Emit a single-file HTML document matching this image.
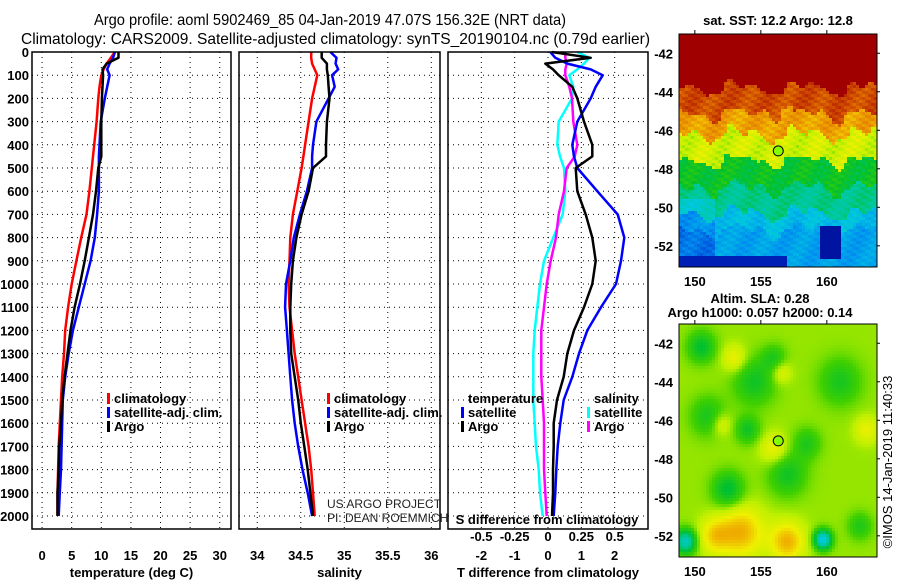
<!DOCTYPE html>
<html><head><meta charset="utf-8"><style>
body{margin:0;background:#fff;}
svg{display:block;font-family:"Liberation Sans",sans-serif;}
.tk{font-size:13px;font-weight:bold;fill:#000;}
.lg{font-size:13px;font-weight:bold;fill:#000;}
</style></head><body>
<svg id="fig" width="900" height="580" viewBox="0 0 900 580">
<text x="330" y="25" text-anchor="middle" font-size="16" textLength="472" lengthAdjust="spacingAndGlyphs">Argo profile: aoml 5902469_85 04-Jan-2019 47.07S 156.32E (NRT data)</text>
<text x="21" y="44" font-size="16" textLength="629" lengthAdjust="spacingAndGlyphs">Climatology: CARS2009. Satellite-adjusted climatology: synTS_20190104.nc (0.79d earlier)</text>
<g id="plots"></g>
<g id="maps"></g>
<text x="327" y="508" font-size="12" fill="#222">US ARGO PROJECT</text>
<text x="327" y="522" font-size="12" fill="#222">PI: DEAN ROEMMICH</text>
<text transform="translate(892,462) rotate(-90)" text-anchor="middle" font-size="13">©IMOS 14-Jan-2019 11:40:33</text>
<text x="778" y="25" text-anchor="middle" class="lg">sat. SST: 12.2 Argo: 12.8</text>
<text x="760" y="303" text-anchor="middle" class="lg">Altim. SLA: 0.28</text>
<text x="760" y="317" text-anchor="middle" class="lg">Argo h1000: 0.057 h2000: 0.14</text>
</svg>
<script>
// ---- data ----
const depths=[0,25,50,75,100,150,200,300,400,450,500,600,700,800,900,1000,1100,1200,1300,1400,1500,1600,1700,1800,1900,2000];
const tempClim=[12.3,11.6,10.9,10.4,10.0,9.7,9.5,9.2,8.8,8.6,8.4,8.0,7.5,6.6,5.8,5.0,4.4,3.9,3.7,3.4,3.2,3.0,2.8,2.7,2.6,2.6];
const tempSat=[12.3,12.0,11.4,11.0,11.4,11.0,10.6,9.9,9.7,9.6,9.6,9.6,9.3,8.9,8.2,7.2,6.2,5.2,4.5,3.9,3.5,3.4,3.3,3.2,3.0,2.8];
const tempArgo=[12.9,12.9,10.9,10.2,10.3,10.2,10.1,10.0,10.0,10.0,9.5,9.1,8.6,7.9,7.2,6.4,5.5,4.8,4.3,3.8,3.4,3.2,2.9,2.8,2.6,2.6];
const salClim=[34.62,34.62,34.63,34.66,34.69,34.66,34.63,34.59,34.55,34.53,34.51,34.46,34.41,34.38,34.37,34.36,34.37,34.40,34.43,34.47,34.51,34.55,34.59,34.62,34.64,34.66];
const salSat=[34.84,34.91,34.90,34.93,34.86,34.89,34.82,34.68,34.64,34.63,34.63,34.57,34.49,34.42,34.38,34.33,34.32,34.34,34.36,34.38,34.40,34.43,34.47,34.52,34.58,34.63];
const salArgo=[34.74,34.74,34.80,34.80,34.81,34.82,34.83,34.80,34.79,34.79,34.64,34.59,34.51,34.45,34.41,34.39,34.38,34.38,34.39,34.43,34.47,34.50,34.54,34.58,34.61,34.64];
const dTSat=[0.07,0.22,0.58,1.28,1.64,1.43,1.28,0.88,0.73,0.78,0.88,1.48,2.09,2.29,2.19,2.04,1.59,1.18,0.93,0.73,0.47,0.37,0.29,0.25,0.22,0.17];
const dTArgo=[0.12,1.28,-0.08,0.15,0.32,0.73,0.88,1.08,1.33,1.33,0.83,0.88,1.13,1.33,1.43,1.33,1.08,0.78,0.58,0.47,0.27,0.17,0.17,0.15,0.15,0.12];
const dSSat=[0.22,0.31,0.27,0.22,0.16,0.19,0.18,0.08,0.07,0.09,0.12,0.13,0.11,0.04,-0.03,-0.06,-0.08,-0.10,-0.11,-0.11,-0.11,-0.10,-0.09,-0.07,-0.06,-0.04];
const dSArgo=[0.13,0.13,0.14,0.13,0.13,0.16,0.18,0.19,0.22,0.20,0.14,0.12,0.08,0.06,0.02,-0.01,-0.03,-0.05,-0.05,-0.05,-0.04,-0.03,-0.03,-0.03,-0.02,-0.01];
const depthTicks=[0,100,200,300,400,500,600,700,800,900,1000,1100,1200,1300,1400,1500,1600,1700,1800,1900,2000];
const tempTicks=[0,5,10,15,20,25,30];
const salTicks=[34,34.5,35,35.5,36];
const dTTicks=[-2,-1,0,1,2];
const dSTicks=[-0.5,-0.25,0,0.25,0.5];
const dSTickLabels=["-0.5","-0.25","0","0.25","0.5"];
const lonTicks=[150,155,160];
const latTicks=[-42,-44,-46,-48,-50,-52];
const argoLon=156.32, argoLat=-47.07;

const NS='http://www.w3.org/2000/svg';
function mk(tag,attrs,parent){const e=document.createElementNS(NS,tag);for(const k in attrs)e.setAttribute(k,attrs[k]);parent.appendChild(e);return e;}
const plots=document.getElementById('plots');
const top0=52, bot=529;
const yD=d=>top0+d*0.232;

function panel(name,x0,x1,xmin,xmax,ticks,labels,title,series){
  const sx=v=>x0+(v-xmin)/(xmax-xmin)*(x1-x0);
  const g=mk('g',{},plots);
  
  
  depthTicks.forEach(d=>{const l=mk('line',{x1:x0,x2:x1,y1:yD(d),y2:yD(d),stroke:'#000','stroke-width':1,'stroke-dasharray':'1,4'},g);
    });
  ticks.forEach((t,i)=>{const l=mk('line',{x1:sx(t),x2:sx(t),y1:top0,y2:bot,stroke:'#000','stroke-width':1,'stroke-dasharray':'1,4'},g);
    
    if(labels){const tx=mk('text',{x:sx(t),y:560,'text-anchor':'middle',class:'tk'},g);tx.textContent=labels[i];
    }});
  series.forEach(s=>{const pts=s.vals.map((v,i)=>sx(v*(s.scale||1)).toFixed(1)+','+yD(depths[i]).toFixed(1)).join(' ');
    const p=mk('polyline',{points:pts,fill:'none',stroke:s.c,'stroke-width':2.5,'stroke-linejoin':'round'},g);
    });
  const r=mk('rect',{x:x0,y:top0,width:x1-x0,height:bot-top0,fill:'none',stroke:'#000','stroke-width':1.5},g);
  
  const tt=mk('text',{x:(x0+x1)/2,y:577,'text-anchor':'middle',class:'tk'},g);tt.textContent=title;
  
  return sx;
}
depthTicks.forEach(d=>{const t=mk('text',{x:29,y:yD(d)+5,'text-anchor':'end',class:'tk'},plots);t.textContent=d;
  });
panel('temperature-panel',32,231,-1.7,31.9,tempTicks,tempTicks.map(String),'temperature (deg C)',
 [{vals:tempClim,c:'#f00',n:'temp-climatology-line'},{vals:tempSat,c:'#00f',n:'temp-satellite-line'},{vals:tempArgo,c:'#000',n:'temp-argo-line'}]);
panel('salinity-panel',239,440,33.79,36.1,salTicks,salTicks.map(String),'salinity',
 [{vals:salClim,c:'#f00',n:'sal-climatology-line'},{vals:salSat,c:'#00f',n:'sal-satellite-line'},{vals:salArgo,c:'#000',n:'sal-argo-line'}]);
const sx3=panel('difference-panel',448,648,-3,3,dTTicks,dTTicks.map(String),'T difference from climatology',
 [{vals:dSSat,c:'#0ff',n:'sdiff-satellite-line',scale:4},{vals:dSArgo,c:'#f0f',n:'sdiff-argo-line',scale:4},{vals:dTSat,c:'#00f',n:'tdiff-satellite-line'},{vals:dTArgo,c:'#000',n:'tdiff-argo-line'}]);
dSTicks.forEach((t,i)=>{const tx=mk('text',{x:sx3(t*4),y:541,'text-anchor':'middle',class:'tk'},plots);tx.textContent=dSTickLabels[i];
  });
{const tx=mk('text',{x:547,y:524,'text-anchor':'middle',class:'tk'},plots);tx.textContent='S difference from climatology';
 }

function legend(x,y,items,name){
  const g=mk('g',{},plots);
  items.forEach((it,i)=>{
    if(it.c){const r=mk('rect',{x:x,y:y+i*14-10,width:3,height:11,fill:it.c},g);}
    const t=mk('text',{x:x+7,y:y+i*14,class:'lg'},g);t.textContent=it.t;});
}
legend(107,403,[{c:'#f00',t:'climatology'},{c:'#00f',t:'satellite-adj. clim.'},{c:'#000',t:'Argo'}],'temperature-legend');
legend(327,403,[{c:'#f00',t:'climatology'},{c:'#00f',t:'satellite-adj. clim.'},{c:'#000',t:'Argo'}],'salinity-legend');
legend(461,403,[{c:null,t:'temperature'},{c:'#00f',t:'satellite'},{c:'#000',t:'Argo'}],'tdiff-legend');
legend(587,403,[{c:null,t:'salinity'},{c:'#0ff',t:'satellite'},{c:'#f0f',t:'Argo'}],'sdiff-legend');

// ---- maps ----
const maps=document.getElementById('maps');
const cstops=[[0,0,0,128],[0.12,0,48,208],[0.25,0,144,240],[0.35,0,200,224],[0.45,0,200,144],[0.52,0,192,48],[0.6,64,208,0],[0.66,192,240,0],[0.72,240,240,0],[0.78,240,176,0],[0.86,224,112,0],[0.93,192,48,0],[1,160,0,0]];
function cmap(v){v=Math.max(0,Math.min(1,v));for(let i=1;i<cstops.length;i++){const a=cstops[i-1],b=cstops[i];if(v<=b[0]){const t=(v-a[0])/(b[0]-a[0]);
  return 'rgb('+Math.round(a[1]+t*(b[1]-a[1]))+','+Math.round(a[2]+t*(b[2]-a[2]))+','+Math.round(a[3]+t*(b[3]-a[3]))+')';}}return 'rgb(160,0,0)';}
const lon0=148.8,lon1=163.8,lat0=-41.0,lat1=-53.1;
function sstField(lo,la){
  const w=0.6*Math.sin(lo*1.3)+0.4*Math.sin(lo*2.7+1)+(Math.abs(lo-156.3)<1.2?-0.8:0)*Math.max(0,1-Math.abs(la+45))+0.3*Math.sin(lo*4.1+la*3);
  const L=la+w*0.5;
  let v;
  if(L>-43.8)v=1.0;else if(L>-45.2)v=0.9;else if(L>-46.2)v=0.8;else if(L>-47.6)v=0.68;else if(L>-49)v=0.53;else if(L>-50.3)v=0.45;else if(L>-51.2)v=0.33;else v=0.28;
  if(v<1)v+=0.04*Math.sin(lo*37.1+la*53.3)*Math.sin(lo*11.7-la*29.1);
  if(lo<151.5&&la<-49.5)v-=0.07;
  if(Math.abs(lo-160.2)<0.8&&la<-51&&la>-52.7)v=0.05;
  if(la<-52.6&&lo<157)v=0.08;
  return v;}
const blobs=[[154.5,-44,-0.1,1.2],[151,-45.8,-0.09,1.0],[154,-46.5,-0.1,0.7],[157,-48.8,-0.1,1.1],[152.5,-49.6,-0.13,0.9],[161,-44,-0.09,1.2],[158.5,-47.2,-0.08,0.8],[162.5,-51.5,-0.08,0.7],[150.5,-42.2,-0.12,0.8],[156,-42.8,-0.08,0.7],[153,-42.8,0.08,0.7],[156.5,-43.5,0.07,0.6],[156,-47.5,0.08,0.8],[153.5,-51.8,0.14,1.3],[157,-52.3,0.14,1.0],[151.5,-52,0.1,0.9],[152,-46.2,0.07,0.6],[159.7,-52.2,-0.3,0.5],[149.3,-52.3,-0.25,0.6],[163,-46.5,0.07,0.7]];
function slaField(lo,la){let v=0.64;blobs.forEach(b=>{const d=((lo-b[0])**2*0.6+(la-b[1])**2)/(b[3]*b[3]);v+=b[2]*Math.exp(-d);});return v;}
function drawMap(y0,y1,field,name){
  const x0=679,x1=877;const g=mk('g',{},maps);
  const cw=3,ch=3;
  for(let y=y0;y<y1;y+=ch)for(let x=x0;x<x1;x+=cw){
    const lo=lon0+(x+cw/2-x0)/(x1-x0)*(lon1-lon0),la=lat0+(y+ch/2-y0)/(y1-y0)*(lat1-lat0);
    mk('rect',{x:x,y:y,width:Math.min(cw,x1-x),height:Math.min(ch,y1-y),fill:cmap(field(lo,la))},g);}
  const sx=lo=>x0+(lo-lon0)/(lon1-lon0)*(x1-x0), sy=la=>y0+(la-lat0)/(lat1-lat0)*(y1-y0);
  const c=mk('circle',{cx:sx(argoLon),cy:sy(argoLat),r:5,fill:'#8f0',stroke:'#000','stroke-width':1},g);
  
  const f=mk('rect',{x:x0,y:y0,width:x1-x0,height:y1-y0,fill:'none',stroke:'#000','stroke-width':1},g);
  
  lonTicks.forEach(lo=>{mk('line',{x1:sx(lo),x2:sx(lo),y1:y0-4,y2:y0,stroke:'#000'},g);
    const t=mk('text',{x:sx(lo),y:y1+19,'text-anchor':'middle',class:'tk'},g);t.textContent=lo;
    });
  latTicks.forEach(la=>{mk('line',{x1:x1,x2:x1+3,y1:sy(la),y2:sy(la),stroke:'#000'},g);
    const t=mk('text',{x:673,y:sy(la)+5,'text-anchor':'end',class:'tk'},g);t.textContent=la;
    });
}
drawMap(34,267,sstField,'sst-map');
drawMap(324,557,slaField,'sla-map');
</script>
</body></html>
